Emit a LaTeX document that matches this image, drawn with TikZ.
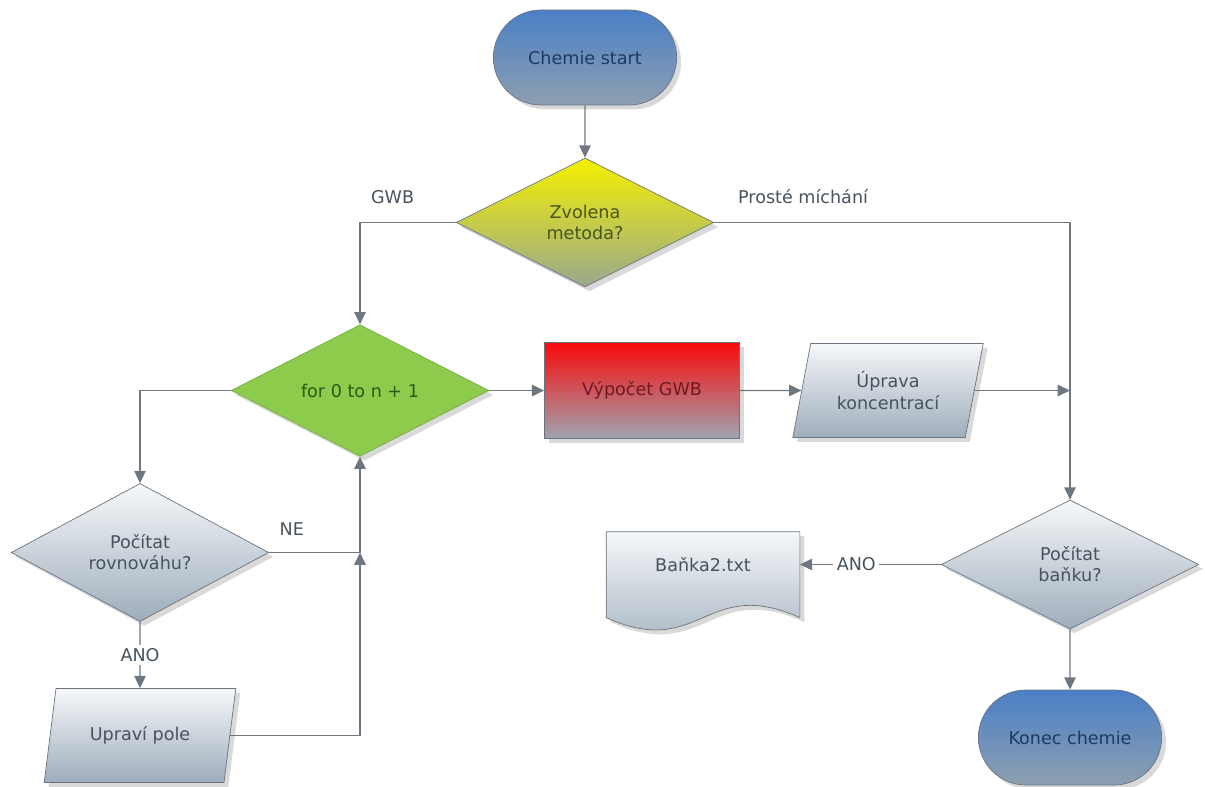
\documentclass[tikz,border=0pt]{standalone}
\usepackage{fontspec}
\setmainfont{DejaVu Sans}
\usepackage{tikz}
\definecolor{termtop}{HTML}{4A7FC6}
\definecolor{termbottom}{HTML}{8E9FB0}
\definecolor{termtext}{HTML}{1F3A60}
\definecolor{graytop}{HTML}{F6F8FA}
\definecolor{graybottom}{HTML}{9EADBB}
\definecolor{graytext}{HTML}{48535E}
\definecolor{yellowtop}{HTML}{F5F000}
\definecolor{yellowbottom}{HTML}{98A88E}
\definecolor{yellowtext}{HTML}{4A5520}
\definecolor{loopgreen}{HTML}{8CCB4C}
\definecolor{greentext}{HTML}{2C5A14}
\definecolor{redtop}{HTML}{F80A0A}
\definecolor{redbottom}{HTML}{A0A4B0}
\definecolor{redtext}{HTML}{6E1A22}
\definecolor{bordergray}{HTML}{6A7480}
\definecolor{linegray}{HTML}{6E7680}
\usetikzlibrary{shapes.geometric, shapes.misc, arrows.meta, shadows, backgrounds}
\tikzstyle{shadowed} = [drop shadow={opacity=0.3, shadow xshift=2.5pt, shadow yshift=-2.5pt}]
\tikzstyle{termblock} = [rounded rectangle, draw=bordergray, top color=termtop, bottom color=termbottom, 
text=termtext, minimum width=3.9cm, minimum height=1.9cm, shadowed]
\tikzstyle{dblock} = [diamond, draw=bordergray, top color=graytop, bottom color=graybottom, 
text=graytext, align=center, minimum width=5.15cm, minimum height=2.58cm, inner sep=0pt, shadowed]
\tikzstyle{yblock} = [dblock, top color=yellowtop, bottom color=yellowbottom, text=yellowtext]
\tikzstyle{gblock} = [dblock, draw=loopgreen!85!black, top color=loopgreen, bottom color=loopgreen, text=greentext]
\tikzstyle{rblock} = [rectangle, draw=bordergray, top color=redtop, bottom color=redbottom, 
text=redtext, minimum width=3.9cm, minimum height=1.92cm, shadowed]
\tikzstyle{pblock} = [trapezium, trapezium left angle=75, trapezium right angle=105, trapezium stretches=true, 
draw=bordergray, top color=graytop, bottom color=graybottom, text=graytext, align=center, 
minimum width=3.84cm, minimum height=1.88cm, shadowed]
\tikzstyle{docblock} = [rectangle, text=graytext, minimum width=3.86cm, minimum height=1.3cm]
\tikzstyle{lbl} = [text=graytext, inner sep=2pt]
\tikzstyle{arrow} = [thick, draw=linegray, -{Triangle[length=7pt,width=6.5pt]}]

\begin{document}
\begin{tikzpicture}[node distance=3.3cm]
\useasboundingbox (0,0) rectangle (24.1,-15.74);
	\node (Start) [termblock] at (11.7,-1.15) {Chemie start};
	\node (Method) [yblock, below of=Start] {Zvolena\\metoda?};
	\node (Loop) [gblock, below of=Method, xshift=-4.5cm, yshift=-0.06cm] {for 0 to n + 1};
	\node (Calc) [rblock, right of=Loop, xshift=2.34cm] {Výpočet GWB};
	\node (Conc) [pblock, right of=Calc, xshift=1.62cm] {Úprava\\koncentrací};
	\node (AskFlask) [dblock, below of=Conc, xshift=3.64cm, yshift=-0.18cm] {Počítat\\baňku?};
	\node (Flask) [docblock, left of=AskFlask, xshift=-4.04cm] {Baňka2.txt};
	\node (End) [termblock, below of=AskFlask, yshift=-0.16cm] {Konec chemie};
	\node (AskEq) [dblock, below of=Loop, xshift=-4.4cm, yshift=0.06cm] {Počítat\\rovnováhu?};
	\node (Fix) [pblock, below of=AskEq, yshift=-0.36cm] {Upraví pole};
	\coordinate (JoinL) at (Loop.south |- AskEq.east);
	\coordinate (JoinR) at (AskFlask.north |- Conc.east);

	\begin{scope}[on background layer]
	\shadedraw [draw=bordergray, top color=graytop, bottom color=graybottom, shadowed] (Flask.north west) -- (Flask.north east) -- ++(0,-1.72)
	.. controls +(-1.9,0.85) and +(1.9,-0.85) .. ([yshift=-1.72cm]Flask.north west) -- cycle;
	\end{scope}

	\draw [arrow] (Start) -- (Method);
	\draw [arrow] (Method.west) -| node[lbl, pos=0.33, above=0.3cm] {GWB} (Loop.north);
	\draw [arrow] (Method.east) -| node[lbl, pos=0.125, above=0.3cm] {Prosté míchání} (AskFlask.north);
	\draw [arrow] (Loop) -- (Calc);
	\draw [arrow] (Calc) -- (Conc);
	\draw [arrow] (Conc.east) -- (JoinR);
	\draw [arrow] (AskFlask.west) -- node[lbl, fill=white, pos=0.6] {ANO} (Flask.east);
	\draw [arrow] (AskFlask) -- (End);
	\draw [arrow] (Loop.west) -| (AskEq.north);
	\draw [arrow] (AskEq) -- node[lbl, fill=white] {ANO} (Fix);
	\draw [arrow] (AskEq.east) -- node[lbl, pos=0.25, above=0.25cm] {NE} (JoinL) -- (Loop.south);
	\draw [arrow] (Fix.east) -| (JoinL);
\end{tikzpicture}
\end{document}
